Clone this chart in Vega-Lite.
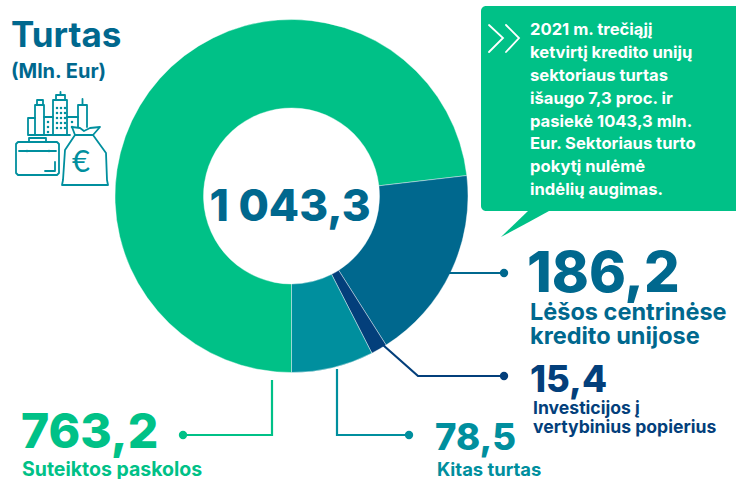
{
"$schema":"https://vega.github.io/schema/vega-lite/v6.json",
"width":736,"height":479,"autosize":{"type":"fit","contains":"padding"},"padding":0,"background":"white",
"config":{"view":{"stroke":null},"text":{"font":"Inter","fontWeight":700,"align":"left","baseline":"alphabetic"}},
"encoding":{
"x":{"field":"x","type":"quantitative","axis":null,"scale":{"domain":[0,736],"range":[0,736],"nice":false,"zero":false}},
"y":{"field":"y","type":"quantitative","axis":null,"scale":{"domain":[0,479],"range":[0,479],"nice":false,"zero":false}},
"color":{"field":"group","type":"nominal","legend":null,"scale":{"domain":["Suteiktos paskolos","Lėšos centrinėse kredito unijose","Investicijos į vertybinius popierius","Kitas turtas","Antraštė","Piktograma"],"range":["#00c187","#00688e","#033f7b","#008f9e","#00688e","#008f9e"]}}
},
"layer":[
{"data":{"values":[
{"group":"Suteiktos paskolos","value":763.2,"order":1,"x":291.5,"y":196},
{"group":"Lėšos centrinėse kredito unijose","value":186.2,"order":2,"x":291.5,"y":196},
{"group":"Investicijos į vertybinius popierius","value":15.4,"order":3,"x":291.5,"y":196},
{"group":"Kitas turtas","value":78.5,"order":4,"x":291.5,"y":196}]},
"mark":{"type":"arc","outerRadius":176.5,"innerRadius":88,"stroke":"#ffffff","strokeWidth":0.4},
"encoding":{"theta":{"field":"value","type":"quantitative","stack":true,"scale":{"range":[3.14159,9.42478]}},"order":{"field":"order"}}},
{"data":{"values":[{"x":481,"x2":745,"y":6,"y2":211}]},
"mark":{"type":"rect","color":"#00c187","cornerRadius":5},
"encoding":{"x2":{"field":"x2"},"y2":{"field":"y2"},"color":{"value":"#00c187"}}},
{"data":{"values":[{"x":501,"y":237,"y2":237},{"x":528,"y":211,"y2":222.4},{"x":549,"y":211,"y2":211}]},
"mark":{"type":"area","orient":"vertical"},
"encoding":{"y2":{"field":"y2"},"color":{"value":"#00c187"}}},
{"data":{"values":[
{"p":"c1","i":1,"x":489,"y":25},{"p":"c1","i":2,"x":503,"y":38},{"p":"c1","i":3,"x":489,"y":52},
{"p":"c2","i":1,"x":506,"y":25},{"p":"c2","i":2,"x":519,"y":38},{"p":"c2","i":3,"x":506,"y":52}]},
"mark":{"type":"line","strokeWidth":1.8,"strokeCap":"round"},
"encoding":{"detail":{"field":"p"},"order":{"field":"i"},"color":{"value":"#ffffff"}}},
{"data":{"values":[
{"group":"Lėšos centrinėse kredito unijose","p":"a","i":1,"x":449,"y":273},{"group":"Lėšos centrinėse kredito unijose","p":"a","i":2,"x":504,"y":273},
{"group":"Investicijos į vertybinius popierius","p":"b","i":1,"x":383,"y":345},{"group":"Investicijos į vertybinius popierius","p":"b","i":2,"x":418,"y":376},{"group":"Investicijos į vertybinius popierius","p":"b","i":3,"x":504,"y":376},
{"group":"Kitas turtas","p":"c","i":1,"x":337,"y":369},{"group":"Kitas turtas","p":"c","i":2,"x":337,"y":435},{"group":"Kitas turtas","p":"c","i":3,"x":409,"y":435},
{"group":"Suteiktos paskolos","p":"d","i":1,"x":272,"y":380},{"group":"Suteiktos paskolos","p":"d","i":2,"x":272,"y":435},{"group":"Suteiktos paskolos","p":"d","i":3,"x":183,"y":435}]},
"mark":{"type":"line","strokeWidth":2.2},
"encoding":{"detail":{"field":"p"},"order":{"field":"i"}}},
{"data":{"values":[
{"group":"Lėšos centrinėse kredito unijose","x":504,"y":273},
{"group":"Investicijos į vertybinius popierius","x":504,"y":376},
{"group":"Kitas turtas","x":409,"y":435},
{"group":"Suteiktos paskolos","x":183,"y":435}]},
"mark":{"type":"point","filled":true,"opacity":1,"size":70,"shape":"circle"}},
{"data":{"values":[
{"p":"b1","i":1,"x":35,"y":135},{"p":"b1","i":2,"x":28,"y":135},{"p":"b1","i":3,"x":28,"y":118},{"p":"b1","i":4,"x":35,"y":118},
{"p":"b2","i":1,"x":35,"y":135},{"p":"b2","i":2,"x":35,"y":105},{"p":"b2","i":3,"x":44,"y":105},{"p":"b2","i":4,"x":44,"y":135},
{"p":"b3","i":1,"x":37,"y":105},{"p":"b3","i":2,"x":37,"y":100},{"p":"b3","i":3,"x":43,"y":100},{"p":"b3","i":4,"x":43,"y":105},
{"p":"b4","i":1,"x":53,"y":135},{"p":"b4","i":2,"x":53,"y":100},{"p":"b4","i":3,"x":67,"y":100},{"p":"b4","i":4,"x":67,"y":135},
{"p":"b5","i":1,"x":56,"y":100},{"p":"b5","i":2,"x":56,"y":95},{"p":"b5","i":3,"x":65,"y":95},{"p":"b5","i":4,"x":65,"y":100},
{"p":"b6","i":1,"x":60.5,"y":95},{"p":"b6","i":2,"x":60.5,"y":92},
{"p":"b7","i":1,"x":44,"y":117},{"p":"b7","i":2,"x":53,"y":117},
{"p":"b8","i":1,"x":35,"y":135},{"p":"b8","i":2,"x":70,"y":135},
{"p":"b9","i":1,"x":67,"y":117},{"p":"b9","i":2,"x":78,"y":117},
{"p":"b10","i":1,"x":78,"y":127},{"p":"b10","i":2,"x":78,"y":105},{"p":"b10","i":3,"x":87,"y":105},{"p":"b10","i":4,"x":87,"y":127},
{"p":"b11","i":1,"x":82.5,"y":105},{"p":"b11","i":2,"x":82.5,"y":99},
{"p":"c1","i":1,"x":18,"y":142},{"p":"c1","i":2,"x":57,"y":142},{"p":"c1","i":3,"x":59,"y":144},{"p":"c1","i":4,"x":59,"y":173},{"p":"c1","i":5,"x":57,"y":175},{"p":"c1","i":6,"x":18,"y":175},{"p":"c1","i":7,"x":16,"y":173},{"p":"c1","i":8,"x":16,"y":144},{"p":"c1","i":9,"x":18,"y":142},
{"p":"c2","i":1,"x":29,"y":142},{"p":"c2","i":2,"x":29,"y":138},{"p":"c2","i":3,"x":46,"y":138},{"p":"c2","i":4,"x":46,"y":142},
{"p":"c3","i":1,"x":19,"y":151},{"p":"c3","i":2,"x":56,"y":151},
{"p":"c4","i":1,"x":45,"y":171},{"p":"c4","i":2,"x":55,"y":171},{"p":"c4","i":3,"x":55,"y":162},
{"p":"d1","i":1,"x":75,"y":135},{"p":"d1","i":2,"x":65,"y":150},{"p":"d1","i":3,"x":63,"y":180},{"p":"d1","i":4,"x":62,"y":185},{"p":"d1","i":5,"x":108,"y":185},{"p":"d1","i":6,"x":107,"y":180},{"p":"d1","i":7,"x":106,"y":153},{"p":"d1","i":8,"x":93,"y":135},{"p":"d1","i":9,"x":75,"y":135},
{"p":"d2","i":1,"x":75,"y":135},{"p":"d2","i":2,"x":72,"y":127},{"p":"d2","i":3,"x":80,"y":128},{"p":"d2","i":4,"x":84,"y":131},{"p":"d2","i":5,"x":90,"y":128},{"p":"d2","i":6,"x":100,"y":127},{"p":"d2","i":7,"x":93,"y":135}]},
"mark":{"type":"line","strokeWidth":1.8,"strokeCap":"round","strokeJoin":"round"},
"encoding":{"detail":{"field":"p"},"order":{"field":"i"},"color":{"value":"#008f9e"}}},
{"data":{"values":[
{"x":57,"y":108},{"x":61,"y":108},{"x":65,"y":108},{"x":57,"y":113},{"x":61,"y":113},{"x":65,"y":113},{"x":57,"y":118},{"x":61,"y":118},{"x":65,"y":118},{"x":57,"y":123},{"x":61,"y":123},{"x":65,"y":123},{"x":57,"y":128},{"x":61,"y":128},{"x":65,"y":128},
{"x":48,"y":122},{"x":48,"y":127},{"x":48,"y":132},{"x":72,"y":122},{"x":72,"y":127},{"x":27,"y":151},{"x":49,"y":151}]},
"mark":{"type":"point","shape":"square","filled":true,"opacity":1,"size":5},
"encoding":{"color":{"value":"#008f9e"}}},
{"data":{"values":[{"text":"€","x":72,"y":172}]},
"mark":{"type":"text","fontSize":31,"fontWeight":400,"font":"Lato"},
"encoding":{"text":{"field":"text"},"color":{"value":"#008f9e"}}},
{"data":{"values":[
{"text":"2021 m. trečiąjį","x":530,"y":35},{"text":"ketvirtį kredito unijų","x":530,"y":58},{"text":"sektoriaus turtas","x":530,"y":81},{"text":"išaugo 7,3 proc.  ir","x":530,"y":104},{"text":"pasiekė 1043,3 mln.","x":530,"y":127},{"text":"Eur. Sektoriaus turto","x":530,"y":149},{"text":"pokytį nulėmė","x":530,"y":172},{"text":"indėlių augimas.","x":530,"y":195}]},
"mark":{"type":"text","fontSize":16.6,"fontWeight":700},
"encoding":{"text":{"field":"text"},"color":{"value":"#ffffff"}}},
{"data":{"values":[{"text":"Turtas","x":11,"y":47,"group":"Antraštė"}]},"mark":{"type":"text","fontSize":35},"encoding":{"text":{"field":"text"}}},
{"data":{"values":[{"text":"(Mln. Eur)","x":11,"y":78,"group":"Antraštė"}]},"mark":{"type":"text","fontSize":20},"encoding":{"text":{"field":"text"}}},
{"data":{"values":[{"text":"1 043,3","x":290,"y":221,"group":"Antraštė"}]},"mark":{"type":"text","fontSize":44,"fontWeight":800,"align":"center"},"encoding":{"text":{"field":"text"}}},
{"data":{"values":[{"text":"186,2","x":527,"y":292,"group":"Lėšos centrinėse kredito unijose"}]},"mark":{"type":"text","fontSize":56,"fontWeight":800},"encoding":{"text":{"field":"text"}}},
{"data":{"values":[{"text":"Lėšos centrinėse","x":530,"y":320,"group":"Lėšos centrinėse kredito unijose"},{"text":"kredito unijose","x":530,"y":344,"group":"Lėšos centrinėse kredito unijose"}]},"mark":{"type":"text","fontSize":23.5,"fontWeight":700},"encoding":{"text":{"field":"text"}}},
{"data":{"values":[{"text":"15,4","x":530,"y":392,"group":"Investicijos į vertybinius popierius"}]},"mark":{"type":"text","fontSize":36.5,"fontWeight":800},"encoding":{"text":{"field":"text"}}},
{"data":{"values":[{"text":"Investicijos į","x":533,"y":414,"group":"Investicijos į vertybinius popierius"},{"text":"vertybinius popierius","x":533,"y":433,"group":"Investicijos į vertybinius popierius"}]},"mark":{"type":"text","fontSize":17.6,"fontWeight":700},"encoding":{"text":{"field":"text"}}},
{"data":{"values":[{"text":"78,5","x":435,"y":450,"group":"Kitas turtas"}]},"mark":{"type":"text","fontSize":36.5,"fontWeight":800},"encoding":{"text":{"field":"text"}}},
{"data":{"values":[{"text":"Kitas turtas","x":437,"y":476,"group":"Kitas turtas"}]},"mark":{"type":"text","fontSize":18.4,"fontWeight":700},"encoding":{"text":{"field":"text"}}},
{"data":{"values":[{"text":"763,2","x":21,"y":448,"group":"Suteiktos paskolos"}]},"mark":{"type":"text","fontSize":48,"fontWeight":800},"encoding":{"text":{"field":"text"}}},
{"data":{"values":[{"text":"Suteiktos paskolos","x":22,"y":476,"group":"Suteiktos paskolos"}]},"mark":{"type":"text","fontSize":19.5,"fontWeight":700},"encoding":{"text":{"field":"text"}}}
]
}
